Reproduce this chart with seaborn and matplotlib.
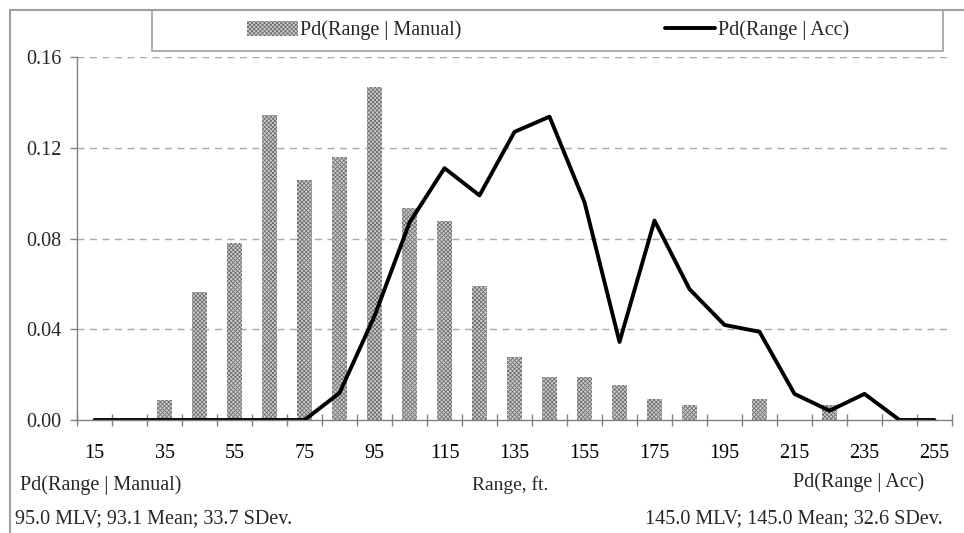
import numpy as np
import pandas as pd
import matplotlib
matplotlib.use("Agg")
import matplotlib.pyplot as plt
import seaborn as sns
from matplotlib.lines import Line2D

ranges = [15, 25, 35, 45, 55, 65, 75, 85, 95, 105, 115, 125, 135, 145, 155,
          165, 175, 185, 195, 205, 215, 225, 235, 245, 255]
manual = [0.0, 0.0, 0.009, 0.0564, 0.078, 0.1344, 0.1058, 0.116, 0.1468, 0.0934,
          0.0877, 0.059, 0.0279, 0.019, 0.019, 0.0154, 0.0093, 0.0066, 0.0,
          0.0093, 0.0, 0.0066, 0.0, 0.0, 0.0]
acc = [0.0, 0.0, 0.0, 0.0, 0.0, 0.0, 0.0, 0.0119, 0.0458, 0.087, 0.111, 0.099,
       0.127, 0.1337, 0.096, 0.0344, 0.0879, 0.0577, 0.0419, 0.0389, 0.0115,
       0.0041, 0.0115, 0.0, 0.0]
tick_labels = [15, 35, 55, 75, 95, 115, 135, 155, 175, 195, 215, 235, 255]
y_ticks = [0.0, 0.04, 0.08, 0.12, 0.16]

manual_label = "Pd(Range | Manual)"
acc_label = "Pd(Range | Acc)"
manual_stats = "95.0 MLV; 93.1 Mean; 33.7 SDev."
acc_stats = "145.0 MLV; 145.0 Mean; 32.6 SDev."

df = pd.DataFrame({"range": ranges, "manual": manual, "acc": acc})

sns.set_theme(style="white")
plt.rcParams["font.family"] = ["Liberation Serif", "DejaVu Serif"]
plt.rcParams["hatch.linewidth"] = 0.6

W, H = 964, 533
fig = plt.figure(figsize=(W / 100, H / 100), dpi=100)
ax = fig.add_axes([77 / W, 1 - 420 / H, (952 - 77) / W, (420 - 57) / H])

sns.barplot(data=df, x="range", y="manual", native_scale=True, width=0.42,
            color="#cfcfcf", edgecolor="#707070", linewidth=0, hatch="xxxxxxxx",
            label=manual_label, ax=ax, saturation=1)
sns.lineplot(data=df, x="range", y="acc", color="black", linewidth=2.8,
             label=acc_label, ax=ax)

ax.set_xlim(10, 260)
ax.set_ylim(0, 0.16)
ax.set_xticks(tick_labels)
ax.set_xticklabels([str(t) for t in tick_labels])
ax.set_xticks(np.arange(10, 261, 10), minor=True)
ax.set_yticks(y_ticks)
ax.set_yticklabels([f"{v:.2f}" for v in y_ticks])
ax.tick_params(axis="x", which="major", length=0, labelsize=14.5, pad=17, colors="black")
ax.tick_params(axis="x", which="minor", length=8, direction="inout", width=1, color="#808080", bottom=True)
ax.tick_params(axis="y", which="major", length=5, direction="out", width=1, color="#808080",
               labelsize=14.5, pad=6, left=True)
ax.set_xlabel("")
ax.set_ylabel("")

for v in y_ticks[1:]:
    ax.axhline(v, color="#a8a8a8", lw=1, ls=(0, (5, 4)), zorder=0)

for s in ["top", "right"]:
    ax.spines[s].set_visible(False)
for s in ["left", "bottom"]:
    ax.spines[s].set_color("#808080")
    ax.spines[s].set_linewidth(1)

# Legend (Manual first)
handles, labels = ax.get_legend_handles_labels()
order = [labels.index(manual_label), labels.index(acc_label)]
leg = ax.legend([handles[i] for i in order], [labels[i] for i in order],
                loc="center", ncol=2, frameon=False,
                bbox_to_anchor=(548 / W, 1 - 30.5 / H), bbox_transform=fig.transFigure,
                fontsize=14.5, handlelength=2.5, handletextpad=0.12, columnspacing=10.1,
                handleheight=0.8)

# legend frame
fig.add_artist(plt.Rectangle((152 / W, 1 - 51 / H), (943 - 152) / W, 41 / H,
                             transform=fig.transFigure, fill=False, edgecolor="#a0a0a0", lw=1.2))
# outer frame lines (top and left)
fig.add_artist(Line2D([9.5 / W, 1], [1 - 9.5 / H, 1 - 9.5 / H], transform=fig.transFigure,
                      color="#a0a0a0", lw=1.5))
fig.add_artist(Line2D([9.5 / W, 9.5 / W], [0, 1 - 9.5 / H], transform=fig.transFigure,
                      color="#a0a0a0", lw=1.5))

# Footer texts
fig.text(20 / W, 1 - 485 / H, manual_label, fontsize=14.5, ha="left", va="center")
fig.text(15 / W, 1 - 519 / H, manual_stats, fontsize=14.5, ha="left", va="center")
fig.text(510 / W, 1 - 485 / H, "Range, ft.", fontsize=14, ha="center", va="center")
fig.text(924 / W, 1 - 482 / H, acc_label, fontsize=14.5, ha="right", va="center")
fig.text(943 / W, 1 - 519 / H, acc_stats, fontsize=14.5, ha="right", va="center")

fig.savefig("out.png", dpi=100)
